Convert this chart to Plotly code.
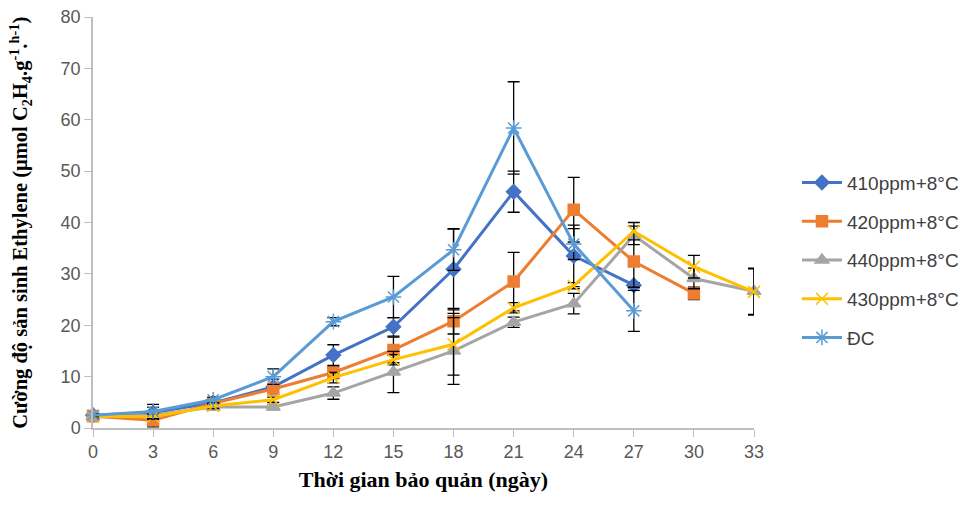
import plotly.graph_objects as go

days = [0, 3, 6, 9, 12, 15, 18, 21, 24, 27, 30, 33]
tick_labels = [str(d) for d in days]

s410 = [2.5, 3.0, 4.9, 8.0, 14.2, 19.7, 30.9, 46.0, 33.5, 27.8, None, None]
e410 = [0.3, 1.0, 0.5, 1.5, 2.0, 1.8, 7.9, 4.0, 6.0, 0.5, None, None]

s420 = [2.3, 1.5, 4.8, 7.6, 10.8, 15.2, 20.8, 28.5, 42.5, 32.4, 26.2, None]
e420 = [0.3, 1.3, 0.5, 1.0, 1.2, 2.5, 2.5, 5.7, 6.3, 5.0, 1.2, None]

s440 = [2.2, 2.5, 4.1, 4.1, 6.8, 10.9, 15.0, 20.6, 24.2, 37.5, 29.1, 26.6]
e440 = [0.3, 0.5, 0.5, 0.5, 1.2, 4.0, 6.5, 1.0, 2.0, 1.8, 2.0, 4.5]

s430 = [2.3, 2.2, 4.3, 5.5, 9.8, 13.3, 16.3, 23.4, 27.7, 38.3, 31.4, 26.5]
e430 = [0.3, 0.5, 0.5, 0.5, 1.0, 1.0, 6.0, 1.0, 0.6, 1.7, 2.2, 4.5]

sDC = [2.5, 3.2, 5.5, 10.0, 20.7, 25.5, 34.7, 58.4, 35.8, 22.8, None, None]
eDC = [0.3, 1.4, 0.5, 1.5, 0.8, 4.0, 4.0, 9.0, 3.0, 4.0, None, None]

series = [
    ("410ppm+8°C", s410, e410, "#4472C4", "diamond", 11),
    ("420ppm+8°C", s420, e420, "#ED7D31", "square", 11),
    ("440ppm+8°C", s440, e440, "#A5A5A5", "triangle-up", 12),
    ("430ppm+8°C", s430, e430, "#FFC000", "x-thin-open", 12),
    ("ĐC", sDC, eDC, "#5B9BD5", "asterisk-open", 13),
]

fig = go.Figure()
for i, (name, ys, es, color, sym, size) in enumerate(series):
    fig.add_trace(go.Scatter(
        x=days, y=ys, name=name, mode="lines+markers",
        line=dict(color=color, width=3),
        marker=dict(symbol=sym, size=size, color=color,
                    line=dict(color=color, width=1.5)),
        error_y=dict(type="data", array=es, visible=True,
                     color="black", thickness=1.3, width=6),
        legendgroup=f"g{i}",
        cliponaxis=False,
    ))

fig.update_layout(
    width=965, height=505,
    margin=dict(l=93, r=211, t=17, b=77, autoexpand=False),
    paper_bgcolor="white", plot_bgcolor="white",
    font=dict(family="Liberation Sans, Arial, sans-serif", color="#404040"),
    showlegend=True,
    legend=dict(x=1.065, y=0.643, xanchor="left", yanchor="top",
                font=dict(size=19, color="#404040"),
                tracegroupgap=11, itemwidth=40),
    xaxis=dict(
        range=[0, 33], tickmode="array", tickvals=days, ticktext=tick_labels,
        showline=True, linecolor="#BFBFBF", linewidth=1.5,
        ticks="outside", tickcolor="#BFBFBF", ticklen=7,
        showgrid=False, zeroline=False,
        tickfont=dict(size=18, color="#595959"),
        title=dict(text="<b>Thời gian bảo quản (ngày)</b>",
                   font=dict(family="Liberation Serif, Times New Roman, serif",
                             size=22, color="black"),
                   standoff=10),
    ),
    yaxis=dict(
        range=[0, 80], tickmode="array", tickvals=list(range(0, 81, 10)),
        showline=True, linecolor="#BFBFBF", linewidth=1.5,
        ticks="outside", tickcolor="#BFBFBF", ticklen=7,
        showgrid=False, zeroline=False,
        tickfont=dict(size=18, color="#595959"),
    ),
    annotations=[dict(
        text="<b>Cường độ sản sinh Ethylene (µmol C<sub>2</sub>H<sub>4</sub>.g<sup>-1</sup>.<sup>h-1</sup>)</b>",
        xref="paper", yref="paper", x=-0.11, y=0.5,
        xanchor="center", yanchor="middle", textangle=-90, showarrow=False,
        font=dict(family="Liberation Serif, Times New Roman, serif",
                  size=20.5, color="black"),
    )],
)

fig.write_html("out.html")
